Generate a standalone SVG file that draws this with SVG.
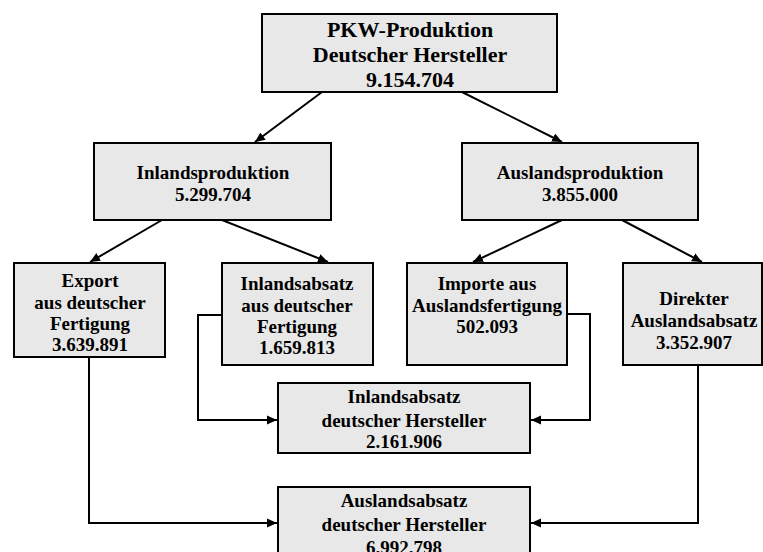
<svg xmlns="http://www.w3.org/2000/svg" width="763" height="552" viewBox="0 0 763 552">
<style>
.box{fill:#e8e8e8;stroke:#000;stroke-width:2}
.t{font-family:"Liberation Serif","Times New Roman",serif;font-weight:bold;font-size:19px;fill:#000;text-anchor:middle}
.tl{font-size:22px}
.c{fill:none;stroke:#000;stroke-width:2}
</style>
<defs>
<marker id="ah" markerUnits="userSpaceOnUse" markerWidth="12" markerHeight="10" refX="10" refY="5" orient="auto">
<path d="M0,0.5 L10,5 L0,9.5 Z" fill="#000"/>
</marker>
</defs>
<rect width="763" height="552" fill="#fff"/>
<g id="connectors">
<line class="c" x1="322" y1="92" x2="255" y2="142" marker-end="url(#ah)"/>
<line class="c" x1="462" y1="92" x2="562" y2="142" marker-end="url(#ah)"/>
<line class="c" x1="162" y1="220" x2="90" y2="262" marker-end="url(#ah)"/>
<line class="c" x1="222" y1="220" x2="328" y2="262" marker-end="url(#ah)"/>
<line class="c" x1="562" y1="220" x2="473" y2="262" marker-end="url(#ah)"/>
<line class="c" x1="622" y1="220" x2="702" y2="262" marker-end="url(#ah)"/>
<polyline class="c" points="222,315 198,315 198,420 277,420" marker-end="url(#ah)"/>
<polyline class="c" points="567,314 590,314 590,420 531,420" marker-end="url(#ah)"/>
<polyline class="c" points="89,357 89,523 277,523" marker-end="url(#ah)"/>
<polyline class="c" points="698,365 698,523 531,523" marker-end="url(#ah)"/>
</g>
<g id="pkw">
<rect class="box" x="262" y="14" width="295" height="78"/>
<text class="t tl" x="410" y="37">PKW-Produktion</text>
<text class="t tl" x="410" y="62">Deutscher Hersteller</text>
<text class="t tl" x="410" y="87">9.154.704</text>
</g>
<g id="inlandsproduktion">
<rect class="box" x="94" y="143" width="237" height="77"/>
<text class="t" x="213" y="179">Inlandsproduktion</text>
<text class="t" x="213" y="201">5.299.704</text>
</g>
<g id="auslandsproduktion">
<rect class="box" x="462" y="143" width="236" height="77"/>
<text class="t" x="580" y="179">Auslandsproduktion</text>
<text class="t" x="580" y="201">3.855.000</text>
</g>
<g id="export">
<rect class="box" x="14" y="263" width="151" height="94"/>
<text class="t" x="90" y="287">Export</text>
<text class="t" x="90" y="309">aus deutscher</text>
<text class="t" x="90" y="330">Fertigung</text>
<text class="t" x="90" y="351">3.639.891</text>
</g>
<g id="inlandsabsatz-fertigung">
<rect class="box" x="222" y="263" width="151" height="102"/>
<text class="t" x="297" y="290">Inlandsabsatz</text>
<text class="t" x="297" y="312">aus deutscher</text>
<text class="t" x="297" y="333">Fertigung</text>
<text class="t" x="297" y="354">1.659.813</text>
</g>
<g id="importe">
<rect class="box" x="407" y="263" width="160" height="102"/>
<text class="t" x="487" y="290">Importe aus</text>
<text class="t" x="487" y="312">Auslandsfertigung</text>
<text class="t" x="487" y="333">502.093</text>
</g>
<g id="direkter">
<rect class="box" x="623" y="263" width="139" height="102"/>
<text class="t" x="694" y="305">Direkter</text>
<text class="t" x="694" y="327">Auslandsabsatz</text>
<text class="t" x="694" y="349">3.352.907</text>
</g>
<g id="inlandsabsatz-hersteller">
<rect class="box" x="278" y="383" width="252" height="70"/>
<text class="t" x="404" y="403">Inlandsabsatz</text>
<text class="t" x="404" y="427">deutscher Hersteller</text>
<text class="t" x="404" y="448">2.161.906</text>
</g>
<g id="auslandsabsatz-hersteller">
<rect class="box" x="278" y="487" width="252" height="75"/>
<text class="t" x="404" y="507">Auslandsabsatz</text>
<text class="t" x="404" y="531">deutscher Hersteller</text>
<text class="t" x="404" y="554">6.992.798</text>
</g>
</svg>
